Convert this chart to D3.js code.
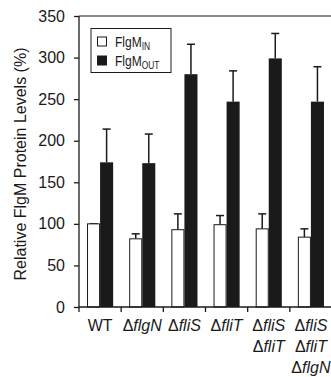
<!DOCTYPE html>
<html><head><meta charset="utf-8">
<script src="https://cdn.jsdelivr.net/npm/d3@7"></script>
<style>body{margin:0;background:#fff}svg{display:block}text{font-family:"Liberation Sans",Arial,sans-serif;fill:#1a1a1a}</style>
</head><body><svg id="c" width="331" height="377"></svg>
<script>
const categories = ["WT","ΔflgN","ΔfliS","ΔfliT","ΔfliS ΔfliT","ΔfliS ΔfliT ΔflgN"];
const flgmIn = [100, 82, 93, 99, 94, 84];
const flgmInErr = [100, 88, 112, 110, 112, 94];
const flgmOut = [174, 173, 280, 247, 299, 247];
const flgmOutErr = [214, 208, 316, 284, 329, 289];
const yTicks = [0,50,100,150,200,250,300,350];
const seriesNames = ["IN","OUT"];

const svg = d3.select("#c");
const L = 79, R = 332, T = 16, B = 307;
const y = d3.scaleLinear().domain([0,350]).range([B,T]);
const x = d3.scaleBand().domain(categories).range([L,R]).paddingInner(0).paddingOuter(0);
const x1 = d3.scaleBand().domain(seriesNames).range([0,x.bandwidth()]).paddingInner(0).paddingOuter(0.615);
const ink = "#1a1a1a";
const font = "'Liberation Sans',Arial,sans-serif";

// top border
svg.append("line").attr("x1",L).attr("x2",331).attr("y1",T).attr("y2",T).attr("stroke",ink).attr("stroke-width",1);

// bars
const rows = categories.map((c,i)=>({c, vals:[{s:"IN",v:flgmIn[i],e:flgmInErr[i]},{s:"OUT",v:flgmOut[i],e:flgmOutErr[i]}]}));
const g = svg.selectAll("g.cat").data(rows).join("g").attr("transform",d=>`translate(${x(d.c)},0)`);
g.selectAll("line.err").data(d=>d.vals).join("line")
  .attr("x1",d=>x1(d.s)+x1.bandwidth()/2).attr("x2",d=>x1(d.s)+x1.bandwidth()/2)
  .attr("y1",d=>y(d.v)).attr("y2",d=>y(d.e)).attr("stroke",ink).attr("stroke-width",1.5);
g.selectAll("line.cap").data(d=>d.vals).join("line")
  .attr("x1",d=>x1(d.s)+x1.bandwidth()/2-4).attr("x2",d=>x1(d.s)+x1.bandwidth()/2+4)
  .attr("y1",d=>y(d.e)).attr("y2",d=>y(d.e)).attr("stroke",ink).attr("stroke-width",1.5);
g.selectAll("rect").data(d=>d.vals).join("rect")
  .attr("x",d=>x1(d.s)+(d.s==="IN"?0.5:0)).attr("width",d=>x1.bandwidth()-(d.s==="IN"?1:0))
  .attr("y",d=>y(d.v)).attr("height",d=>B-y(d.v))
  .attr("fill",d=>d.s==="IN"?"#fff":ink).attr("stroke",ink).attr("stroke-width",d=>d.s==="IN"?1:0);

// y axis
const yAxis = d3.axisLeft(y).tickValues(yTicks).tickSize(5).tickPadding(9);
const ya = svg.append("g").attr("transform",`translate(${L},0)`).call(yAxis);
ya.select(".domain").attr("stroke",ink).attr("stroke-width",1.3).attr("d",`M0,${T}V${B}`);
ya.selectAll(".tick line").attr("stroke",ink).attr("stroke-width",1.3);
ya.selectAll(".tick text").attr("font-size",16).style("font-family",font).attr("fill",ink);

// x axis
svg.append("line").attr("x1",L).attr("x2",331).attr("y1",B).attr("y2",B).attr("stroke",ink).attr("stroke-width",1.3);
const bounds = categories.map(c=>x(c)).concat([x(categories[categories.length-1])+x.bandwidth()]);
svg.selectAll("line.xt").data(bounds).join("line").attr("x1",d=>d).attr("x2",d=>d).attr("y1",B).attr("y2",B+5).attr("stroke",ink).attr("stroke-width",1.3);

// x labels
categories.forEach(c=>{
  const parts = c.split(" ");
  const t = svg.append("text").attr("text-anchor","middle").attr("font-size",16);
  parts.forEach((p,j)=>{
    const cx = x(c)+x.bandwidth()/2;
    const line = t.append("tspan").attr("x",cx).attr("y",331+j*21);
    if(p.startsWith("Δ")){
      line.append("tspan").text("Δ");
      line.append("tspan").attr("font-style","italic").text(p.slice(1));
    } else line.text(p);
  });
});

// y title
svg.append("text").attr("transform",`translate(26,164) rotate(-90)`).attr("text-anchor","middle").attr("font-size",16).text("Relative FlgM Protein Levels (%)");

// legend
const lg = svg.append("g");
lg.append("rect").attr("x",91).attr("y",28.5).attr("width",80).attr("height",44).attr("fill","#fff").attr("stroke",ink).attr("stroke-width",1);
const legendItems = [{s:"IN",fill:"#fff"},{s:"OUT",fill:ink}];
legendItems.forEach((d,i)=>{
  const cy = 41.5+i*19;
  lg.append("rect").attr("x",97.5).attr("y",cy-4.5).attr("width",9).attr("height",9).attr("fill",d.fill).attr("stroke",ink).attr("stroke-width",1);
  const t = lg.append("text").attr("transform",`translate(115,${cy+5.5}) scale(0.8,1)`).attr("font-size",15);
  t.append("tspan").text("FlgM");
  t.append("tspan").attr("font-size",10.5).attr("dy",3).text(d.s);
});
</script></body></html>
